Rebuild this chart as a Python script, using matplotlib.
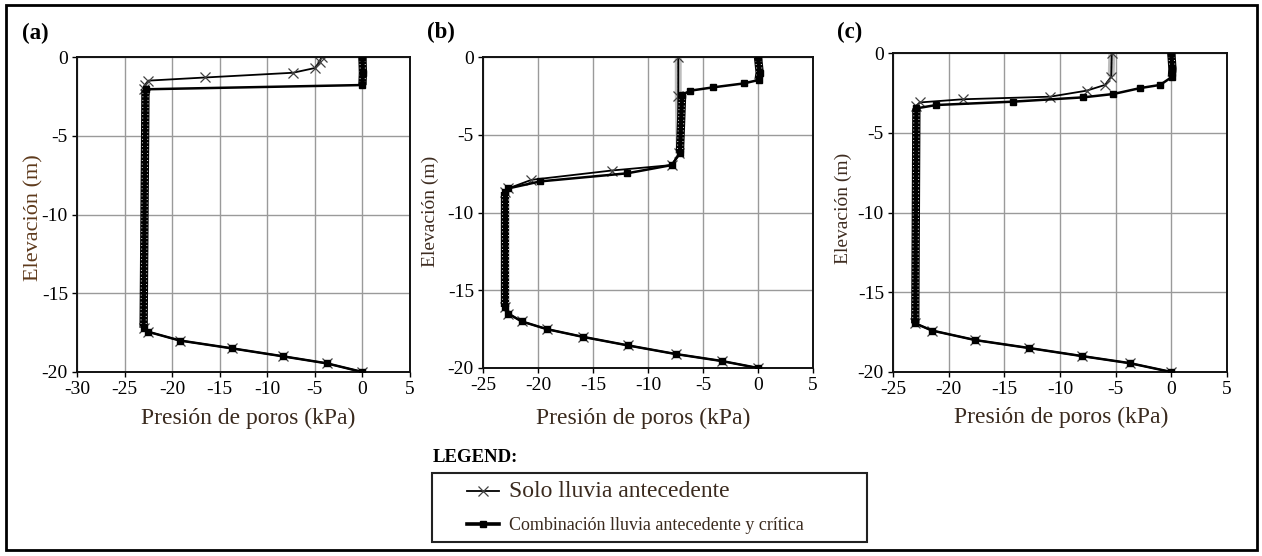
import matplotlib
matplotlib.use("Agg")
import matplotlib.pyplot as plt
from matplotlib.lines import Line2D
from matplotlib.patches import Rectangle
from matplotlib.transforms import offset_copy

plt.rcParams['font.family'] = ['Liberation Serif', 'DejaVu Serif']
plt.rcParams['axes.unicode_minus'] = False

# ---------------------------------------------------------------- data
series_names = ["Solo lluvia antecedente",
                "Combinación lluvia antecedente y crítica"]
panel_tags = ["(a)", "(b)", "(c)"]
x_limits = [(-30, 5), (-25, 5), (-25, 5)]
x_ticks = [[-30, -25, -20, -15, -10, -5, 0, 5],
           [-25, -20, -15, -10, -5, 0, 5],
           [-25, -20, -15, -10, -5, 0, 5]]
y_ticks = [0, -5, -10, -15, -20]

# (a) pore pressure (kPa) vs elevation (m)
a_ante_z = [0, -0.3, -0.7, -1.0, -1.3, -1.5, -1.8, -2.0, -17.2,
            -17.45, -18.0, -18.5, -19.0, -19.45, -20]
a_ante_p = [-4.3, -4.5, -5.0, -7.3, -16.5, -22.5, -22.9, -23.0, -23.0,
            -22.5, -19.2, -13.7, -8.4, -3.75, 0]
a_comb_z = [0, -1.0, -1.78, -2.05, -17.2, -17.45, -18.0, -18.5, -19.0,
            -19.45, -20]
a_comb_p = [0, 0.05, 0, -22.8, -23.0, -22.5, -19.2, -13.7, -8.4,
            -3.75, 0]

# (b)
b_ante_z = [0, -2.5, -6.2, -6.95, -7.3, -7.9, -8.45, -8.7, -16.05,
            -16.5, -17.0, -17.5, -18.0, -18.55, -19.1, -19.55, -20]
b_ante_p = [-7.25, -7.25, -7.15, -7.85, -13.3, -20.6, -22.7, -23.0, -23.0,
            -22.7, -21.5, -19.2, -15.9, -11.8, -7.5, -3.3, 0]
b_comb_z = [0, -1.0, -1.48, -1.7, -1.95, -2.17, -2.45, -6.2, -6.95,
            -7.48, -8.0, -8.45, -8.7, -16.05, -16.5, -17.0, -17.5, -18.0,
            -18.55, -19.1, -19.55, -20]
b_comb_p = [0, 0.15, 0.05, -1.3, -4.06, -6.2, -6.9, -7.1, -7.85,
            -11.9, -19.8, -22.7, -23.0, -23.0, -22.7, -21.5, -19.2, -15.9,
            -11.8, -7.5, -3.3, 0]

# (c)
c_ante_z = [0, -1.48, -2.0, -2.36, -2.74, -2.9, -3.1, -3.3, -16.95,
            -17.4, -18.0, -18.5, -19.0, -19.45, -20]
c_ante_p = [-5.35, -5.4, -5.95, -7.6, -10.9, -18.7, -22.6, -22.9, -23.0,
            -21.5, -17.6, -12.75, -8.05, -3.7, 0]
c_comb_z = [0, -1.0, -1.5, -2.0, -2.2, -2.57, -2.78, -3.05, -3.26, -3.47,
            -16.95, -17.4, -18.0, -18.5, -19.0, -19.45, -20]
c_comb_p = [0, 0.1, 0.05, -1.0, -2.8, -5.2, -7.9, -14.2, -21.1, -22.9,
            -23.0, -21.5, -17.6, -12.75, -8.05, -3.7, 0]

panels = [((a_ante_p, a_ante_z), (a_comb_p, a_comb_z)),
          ((b_ante_p, b_ante_z), (b_comb_p, b_comb_z)),
          ((c_ante_p, c_ante_z), (c_comb_p, c_comb_z))]

# ---------------------------------------------------------------- layout
W, H = 1262, 556
fig = plt.figure(figsize=(W / 100, H / 100), dpi=100)


def px_box(left, top, right, bottom):
    return [left / W, 1 - bottom / H, (right - left) / W, (bottom - top) / H]


axes_px = [(77, 57, 410, 372), (483, 57, 813, 368), (893, 53, 1227, 372)]
tag_px = [(22, 33), (427, 32), (837, 32)]
ylabel_px = [(34, 218, 16, '#5e3a1c'), (430, 211, 14, '#3e2c20'),
             (843, 208, 14, '#3e2c20')]
xlabel_px = [(248, 418), (643, 418), (1061, 417)]

text_dark = '#3a2a1e'


def column_runs(p, z):
    """Index ranges where the profile runs (nearly) vertically through the
    densely spaced solution nodes."""
    runs = []
    for i in range(len(z) - 1):
        dz = abs(z[i + 1] - z[i])
        dp = abs(p[i + 1] - p[i])
        if dz >= 0.4 and dp <= 0.3 * dz:
            if runs and runs[-1][1] == i:
                runs[-1][1] = i + 1
            else:
                runs.append([i, i + 1])
    return runs


for k, ax_box in enumerate(axes_px):
    ax = fig.add_axes(px_box(*ax_box))
    (ap, az), (cp, cz) = panels[k]

    # antecedent-only profile
    for i, j in column_runs(ap, az):
        ax.plot(ap[i:j + 1], az[i:j + 1], color='#bdbdbd', lw=5,
                solid_capstyle='butt', zorder=2.2)
        ax.plot(ap[i:j + 1], az[i:j + 1], color='white', lw=1.0,
                linestyle=(0, (0.8, 2.0)), zorder=2.3)
    ax.plot(ap, az, color='black', lw=1.3, marker='x', ms=7, mew=0.9,
            mec='#404040', zorder=2.5)

    # antecedent + critical rainfall profile
    for i, j in column_runs(cp, cz):
        ax.plot(cp[i:j + 1], cz[i:j + 1], color='black', lw=6,
                solid_capstyle='butt', zorder=3.5)
        for dx in (-2.6, 2.6):
            tr = offset_copy(ax.transData, fig=fig, x=dx, y=0, units='dots')
            ax.plot(cp[i:j + 1], cz[i:j + 1], color='white', lw=0.75,
                    linestyle=(0, (0.8, 2.6)), transform=tr, zorder=3.6)
    ax.plot(cp, cz, color='black', lw=1.8, marker='s', ms=4.5,
            zorder=4)

    ax.set_xlim(*x_limits[k])
    ax.set_ylim(-20, 0)
    ax.set_xticks(x_ticks[k])
    ax.set_yticks(y_ticks)
    ax.set_xticklabels([str(t) for t in x_ticks[k]])
    ax.set_yticklabels([str(t) for t in y_ticks])
    ax.grid(True, color='#9a9a9a', lw=1.0)
    ax.set_axisbelow(True)
    for sp in ax.spines.values():
        sp.set_color('#111111')
        sp.set_linewidth(1.4)
    ax.tick_params(direction='out', length=3.5, width=1, labelsize=14,
                   colors='black')
    ax.tick_params(axis='y', pad=3)
    ax.tick_params(axis='x', pad=3)

    tx, ty = tag_px[k]
    fig.text(tx / W, 1 - ty / H, panel_tags[k], fontsize=16.5,
             fontweight='bold', ha='left', va='center')
    lx, ly, lsize, lcol = ylabel_px[k]
    fig.text(lx / W, 1 - ly / H, 'Elevación (m)', fontsize=lsize,
             color=lcol, rotation=90, ha='center', va='center')
    xx, xy = xlabel_px[k]
    fig.text(xx / W, 1 - xy / H, 'Presión de poros (kPa)', fontsize=17,
             color=text_dark, ha='center', va='center')

# ---------------------------------------------------------------- legend
fig.text(433 / W, 1 - 458 / H, 'LEGEND:', fontsize=13.5,
         fontweight='bold', ha='left', va='center')
fig.add_artist(Rectangle((432 / W, 1 - 542 / H), (867 - 432) / W,
                         (542 - 473) / H, transform=fig.transFigure,
                         fill=False, edgecolor='#222222', lw=1.5))

handles = [Line2D([], [], color='black', lw=1.3, marker='x', ms=7, mew=0.9,
                  mec='#404040'),
           Line2D([], [], color='black', lw=2.6, marker='s', ms=5)]
leg = fig.legend(handles, series_names, loc='upper left',
                 bbox_to_anchor=(467 / W, 1 - 481 / H), frameon=False,
                 prop={'size': 13}, handlelength=1.75, handletextpad=0.55,
                 labelspacing=0.85, borderpad=0, borderaxespad=0,
                 numpoints=1)
leg.get_texts()[0].set_fontsize(17)
for t in leg.get_texts():
    t.set_color(text_dark)

# outer frame
fig.add_artist(Rectangle((6 / W, 1 - 550 / H), (1257 - 6) / W, (550 - 5) / H,
                         transform=fig.transFigure, fill=False,
                         edgecolor='black', lw=2))

fig.savefig('out.png', dpi=100)
